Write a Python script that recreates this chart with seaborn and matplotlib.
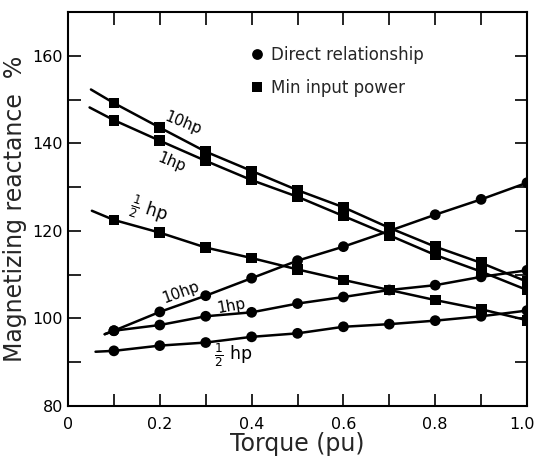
import numpy as np
import pandas as pd
import matplotlib
matplotlib.use("Agg")
import matplotlib.pyplot as plt
import matplotlib.transforms as mtrans
import seaborn as sns

# ---- data ----
torque = [0.1, 0.2, 0.3, 0.4, 0.5, 0.6, 0.7, 0.8, 0.9, 1.0]

direct_10hp = [97.2, 101.5, 105.2, 109.2, 113.2, 116.4, 120.0, 123.7, 127.2, 131.0]
direct_1hp = [97.2, 98.5, 100.5, 101.4, 103.4, 104.9, 106.5, 107.6, 109.5, 111.0]
direct_half = [92.6, 93.8, 94.5, 95.8, 96.6, 98.1, 98.7, 99.5, 100.5, 101.8]

minpow_10hp = [149.2, 143.6, 138.1, 133.7, 129.3, 125.4, 120.7, 116.4, 112.7, 108.4]
minpow_1hp = [145.3, 140.6, 136.0, 131.6, 127.8, 123.4, 119.0, 114.5, 110.7, 106.5]
minpow_half = [122.5, 119.6, 116.2, 113.8, 111.2, 108.8, 106.5, 104.2, 102.1, 99.6]

# start of each drawn curve (lines extend a little left of the first point)
curve_start_x = {"d10": 0.08, "d1": 0.08, "dh": 0.06, "m10": 0.05, "m1": 0.047, "mh": 0.052}
curve_start_y = {"d10": 96.4, "d1": 96.4, "dh": 92.4, "m10": 152.3, "m1": 148.2, "mh": 124.6}

x_tick_values = [0, 0.2, 0.4, 0.6, 0.8, 1.0]
x_tick_labels = ["0", "0.2", "0.4", "0.6", "0.8", "1.0"]
y_tick_values = [80, 100, 120, 140, 160]

series = {
    "d10": ("Direct relationship", direct_10hp),
    "d1": ("Direct relationship", direct_1hp),
    "dh": ("Direct relationship", direct_half),
    "m10": ("Min input power", minpow_10hp),
    "m1": ("Min input power", minpow_1hp),
    "mh": ("Min input power", minpow_half),
}

pts = []
lines = []
for key, (method, vals) in series.items():
    lines.append(dict(curve=key, x=curve_start_x[key], y=curve_start_y[key]))
    for t, v in zip(torque, vals):
        pts.append(dict(curve=key, method=method, x=t, y=v))
        lines.append(dict(curve=key, x=t, y=v))
pts = pd.DataFrame(pts)
lines = pd.DataFrame(lines)

# ---- plot ----
sns.set_theme(style="ticks")
plt.rcParams["font.family"] = ["DejaVu Sans"]

fig = plt.figure(figsize=(5.38, 4.58), dpi=100)
ax = fig.add_axes([0.1264, 0.1135, 0.8532, 0.8603])

sns.lineplot(data=lines, x="x", y="y", units="curve", estimator=None,
             color="black", lw=1.8, sort=False, ax=ax, legend=False)
sns.scatterplot(data=pts, x="x", y="y", style="method",
                markers={"Direct relationship": "o", "Min input power": "s"},
                color="black", s=60, edgecolor="black", linewidth=0, ax=ax,
                zorder=3)

ax.set_xlim(0, 1.0)
ax.set_ylim(80, 170)
ax.set_xticks(x_tick_values)
ax.set_xticklabels(x_tick_labels)
ax.set_xticks(np.arange(0.1, 1.0, 0.2), minor=True)
ax.set_yticks(y_tick_values)
ax.set_yticks([90, 110, 130, 150], minor=True)
ax.tick_params(which="both", direction="in", top=True, right=True,
               length=9, width=1.2, labelsize=11.5, colors="black")
ax.tick_params(axis="x", pad=8)
for s in ax.spines.values():
    s.set_linewidth(1.5)
    s.set_color("black")

# nudge the last x tick label so it stays inside the figure
last = ax.get_xticklabels()[-1]
last.set_transform(last.get_transform() +
                   mtrans.ScaledTranslation(-5 / 100, 0, fig.dpi_scale_trans))

ax.set_xlabel("Torque (pu)", fontsize=17, labelpad=0)
ax.set_ylabel("Magnetizing reactance  %", fontsize=17, labelpad=4)

leg = ax.legend(loc="upper left", bbox_to_anchor=(0.38, 0.93), frameon=False,
                fontsize=12, handletextpad=0.3, labelspacing=0.9,
                borderaxespad=0, handlelength=1.0)

txt = dict(fontsize=11, color="black")
ax.text(0.25, 144.6, "10hp", rotation=-22, ha="center", va="center", **txt)
ax.text(0.225, 135.6, "1hp", rotation=-22, ha="center", va="center", **txt)
ax.text(0.175, 124.5, r"$\frac{1}{2}$ hp", rotation=-18, ha="center", va="center",
        fontsize=12.5, color="black")
ax.text(0.245, 105.9, "10hp", rotation=20, ha="center", va="center", **txt)
ax.text(0.355, 102.9, "1hp", rotation=10, ha="center", va="center", **txt)
ax.text(0.36, 91.6, r"$\frac{1}{2}$ hp", rotation=0, ha="center", va="center",
        fontsize=12.5, color="black")

fig.savefig("out.png", dpi=100)
